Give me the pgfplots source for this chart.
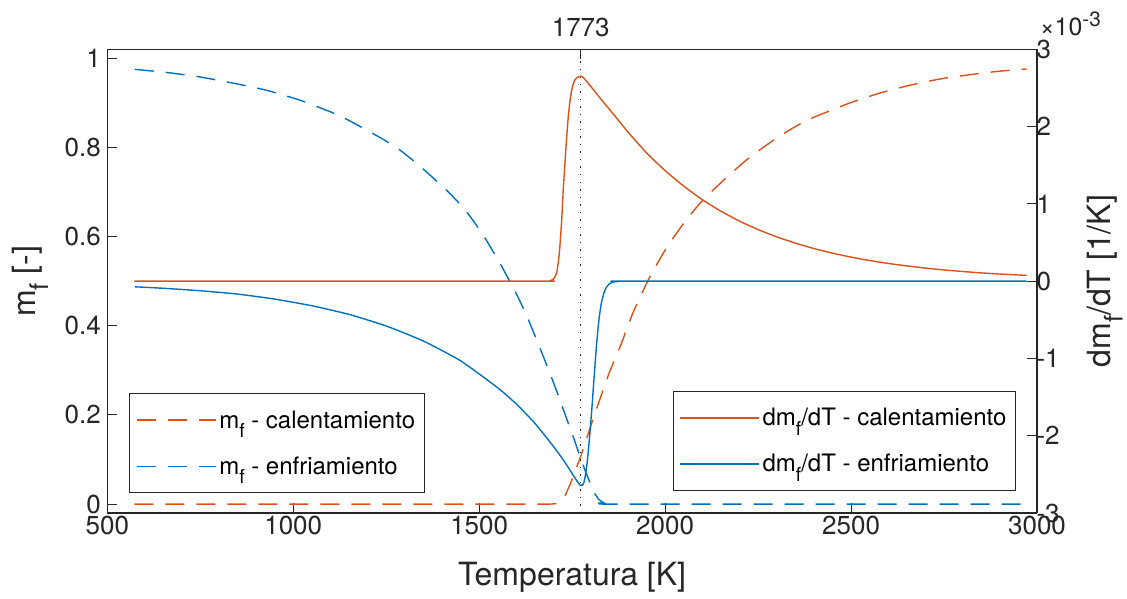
\documentclass[border=0pt]{standalone}
\usepackage{fontspec}
\setmainfont{TeX Gyre Heros}
\usepackage{graphicx}
\usepackage{pgfplots}
\pgfplotsset{compat=1.18}

\definecolor{mlorange}{rgb}{0.850,0.325,0.098}
\definecolor{mlblue}{rgb}{0,0.447,0.741}
\definecolor{axgray}{rgb}{0.15,0.15,0.15}

% lowered subscript in the style of the plotting tool's tex interpreter
\newcommand{\sub}[1]{\raisebox{-0.38em}{\scalebox{0.8}{#1}}}

\pgfplotsset{
  common/.style={
    scale only axis, width=929.7pt, height=463.7pt,
    xmin=500, xmax=3000,
    axis line style={axgray, line width=1.1pt},
    every tick/.style={axgray, line width=1.1pt},
    major tick length=10pt,
    tick align=inside,
    tick label style={font=\fontsize{26}{26}\selectfont, text=axgray},
    /pgf/number format/assume math mode=true,
    /pgf/number format/1000 sep={},
    label style={font=\fontsize{32}{32}\selectfont, text=axgray},
    legend cell align=left,
    legend image code/.code={\draw[##1] (0pt,0pt) -- (79pt,0pt);},
    legend style={font=\fontsize{24}{24}\selectfont, draw=axgray, line width=1.1pt,
      inner xsep=6pt, inner ysep=14pt, row sep=21pt, nodes={inner sep=3pt}},
  },
  heat/.style={color=mlorange, line width=1.4pt, smooth, tension=0.3},
  cool/.style={color=mlblue, line width=1.4pt, smooth, tension=0.3},
  mldash/.style={dash pattern=on 19pt off 12pt},
}

\begin{document}
\begin{tikzpicture}
\path[use as bounding box] (-107.3pt,-85pt) rectangle (1019.7pt,513pt);

% left axis: liquid fraction
\begin{axis}[common,
  axis x line*=bottom, axis y line*=left,
  ymin=-0.02, ymax=1.02,
  ytick={0,0.2,0.4,0.6,0.8,1},
  xtick={500,1000,...,3000},
  yticklabel style={/pgf/number format/fixed, /pgf/number format/precision=1, xshift=-3pt},
  xlabel={Temperatura [K]}, ylabel={m\sub{f} [-]},
  xlabel style={at={(axis description cs:0.5,-0.138)}, anchor=center},
  ylabel style={at={(axis description cs:-0.0828,0.5)}, anchor=center},
  legend style={at={(0.0237,0.0425)}, anchor=south west},
]
\addplot[heat, mldash] coordinates {
(573,0) (1600,0) (1690,0) (1705,0.001) (1715,0.003) (1722,0.008) (1730,0.017)
(1737,0.03) (1745,0.045) (1753,0.062) (1762,0.083) (1773,0.107) (1790,0.15)
(1810,0.2) (1830,0.248) (1850,0.295) (1880,0.355) (1914,0.43) (1959,0.51)
(2004,0.575) (2050,0.63) (2094,0.675) (2130,0.705) (2175,0.74) (2219,0.772)
(2264,0.8) (2309,0.826) (2353,0.848) (2398,0.867) (2443,0.882) (2488,0.897)
(2533,0.91) (2578,0.922) (2622,0.932) (2667,0.941) (2712,0.949) (2757,0.956)
(2802,0.961) (2847,0.966) (2900,0.971) (2972,0.976)
};
\addlegendentry{m\sub{f} - calentamiento}
\addplot[cool, mldash] coordinates {
(574,0.975) (660,0.968) (749,0.958) (839,0.944) (929,0.928) (1018,0.906)
(1108,0.877) (1153,0.859) (1197,0.839) (1242,0.818) (1287,0.794) (1332,0.764)
(1377,0.731) (1422,0.696) (1466,0.656) (1511,0.603) (1556,0.540) (1601,0.470)
(1630,0.418) (1660,0.357) (1690,0.294) (1713,0.243) (1735,0.192) (1755,0.146)
(1771,0.107) (1785,0.075) (1798,0.048) (1810,0.025) (1822,0.01) (1835,0.003)
(1850,0) (2972,0)
};
\addlegendentry{m\sub{f} - enfriamiento}
\end{axis}

% right axis: derivative, in units of 1e-3 1/K
\begin{axis}[common, name=ax2,
  axis x line*=top, axis y line*=right,
  ymin=-3, ymax=3, ytick={-3,-2,...,3},
  xtick={1773},
  xticklabel style={yshift=9pt},
  yticklabel style={xshift=-4pt},
  ylabel={dm\sub{f}/dT [1/K]},
  ylabel style={at={(axis description cs:1.0731,0.5)}, anchor=center},
  legend style={at={(0.9774,0.0474)}, anchor=south east},
]
\addplot[axgray, line width=1.2pt, dash pattern=on 1.5pt off 6pt, forget plot]
  coordinates {(1773,-3) (1773,3)};
\addplot[heat] coordinates {
(573,0) (1650,0) (1690,0.005) (1700,0.03) (1708,0.1) (1713,0.25) (1717,0.45)
(1722,0.8) (1726,1.18) (1731,1.55) (1735,1.85) (1740,2.15) (1745,2.36)
(1750,2.5) (1757,2.6) (1765,2.64) (1776,2.65) (1790,2.58) (1810,2.46)
(1830,2.34) (1861,2.16) (1900,1.93) (1950,1.66) (2000,1.43) (2050,1.23)
(2100,1.054) (2150,0.905) (2200,0.777) (2250,0.667) (2300,0.573) (2350,0.492)
(2400,0.422) (2450,0.362) (2500,0.311) (2550,0.267) (2600,0.229) (2650,0.197)
(2700,0.169) (2750,0.145) (2800,0.125) (2850,0.107) (2900,0.092) (2972,0.074)
};
\addlegendentry{dm\sub{f}/dT - calentamiento\hspace{6pt}}
\addplot[cool] coordinates {
(574,-0.073) (650,-0.092) (750,-0.124) (850,-0.167) (950,-0.232) (1050,-0.318)
(1150,-0.43) (1250,-0.58) (1350,-0.775) (1450,-1.03) (1550,-1.38) (1600,-1.59)
(1650,-1.84) (1700,-2.14) (1730,-2.34) (1750,-2.49) (1765,-2.6) (1772,-2.64)
(1778,-2.64) (1782,-2.6) (1786,-2.5) (1790,-2.36) (1794,-2.17) (1798,-1.95)
(1803,-1.65) (1807,-1.38) (1812,-1.05) (1816,-0.8) (1822,-0.5) (1828,-0.3)
(1835,-0.16) (1842,-0.08) (1850,-0.035) (1860,-0.012) (1875,-0.003) (1900,0)
(2972,0)
};
\addlegendentry{dm\sub{f}/dT - enfriamiento}
\end{axis}
% exponent of the right-hand scale
\node[anchor=base west, inner sep=0pt, text=axgray, font=\Huge]
  at ([xshift=3pt, yshift=14pt]ax2.north east)
  {×10\textsuperscript{-3}};
\end{tikzpicture}
\end{document}
